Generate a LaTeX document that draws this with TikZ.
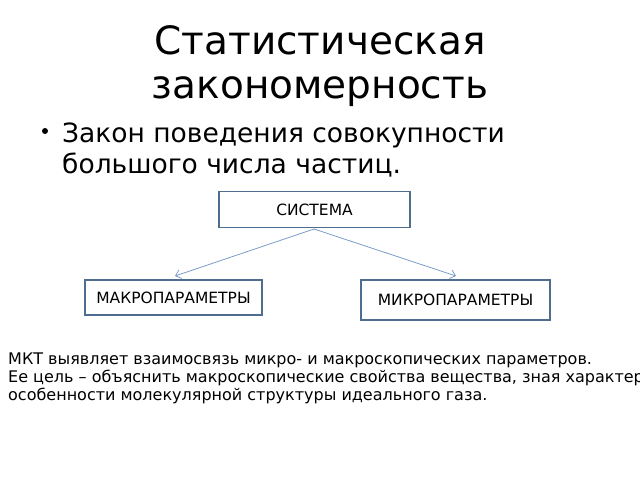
\documentclass[tikz,border=0pt]{standalone}
\usepackage{fontspec}
\setmainfont{DejaVu Sans}
\usetikzlibrary{positioning,arrows.meta}
\definecolor{boxline}{HTML}{4F6D8F}
\definecolor{arrline}{HTML}{7C9CC8}
\tikzset{
  parbox/.style={draw=boxline,line width=1.6pt,minimum height=36pt,font=\fontsize{15.5}{18}\selectfont,inner sep=0pt},
  link/.style={draw=arrline,line width=0.8pt,-{Straight Barb[length=5pt,width=9pt]}}
}

\begin{document}
\begin{tikzpicture}[x=1pt,y=-1pt]
  \useasboundingbox (0,0) rectangle (640,480);
  \clip (0,0) rectangle (640,480);
  % title
  \node (title) at (320,98) [anchor=base,align=center,font=\fontsize{39}{44}\selectfont] {Статистическая\\закономерность};
  % bullet
  \node (dot) at (45,131) [circle,fill=black,inner sep=0pt,minimum size=6pt] {};
  \node (law) [anchor=base west,align=left,inner sep=0pt,font=\fontsize{26.5}{31}\selectfont] at (62,173)
    {Закон поведения совокупности\\большого числа частиц.};
  % boxes
  \node (sys) [parbox,minimum width=191pt] at (314.5,209.5) {СИСТЕМА\hspace{10pt}};
  \node (macro) [parbox,minimum width=177pt,minimum height=35pt] at (173.5,297.5) {МАКРОПАРАМЕТРЫ};
  \node (micro) [parbox,minimum width=189pt,minimum height=40pt] at (455.5,300) {МИКРОПАРАМЕТРЫ\hspace{10pt}};
  \coordinate (top) at (314,229);
  \coordinate (lend) at (175,276);
  \coordinate (rend) at (456,276);
  \draw[link] (top) -- (lend);
  \draw[link] (top) -- (rend);
  % note
  \node (note) [anchor=base west,align=left,inner sep=0pt,font=\fontsize{16}{18}\selectfont] at (8,400)
    {МКТ выявляет взаимосвязь микро- и макроскопических параметров.\\
     Ее цель – объяснить макроскопические свойства вещества, зная характер\\
     особенности молекулярной структуры идеального газа.};
\end{tikzpicture}
\end{document}
